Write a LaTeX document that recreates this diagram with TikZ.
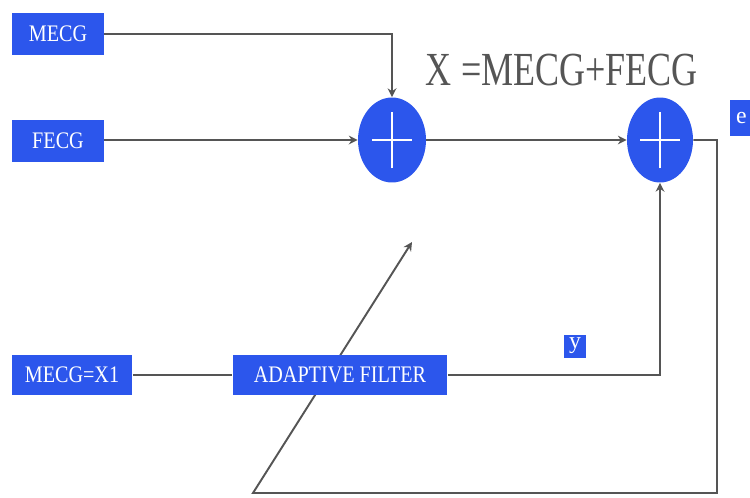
\documentclass[tikz,border=0pt]{standalone}
\usepackage{fontspec}
\setmainfont{Liberation Serif}
\usetikzlibrary{shapes.geometric,arrows.meta}
\pgfdeclarelayer{background}
\pgfsetlayers{background,main}
\definecolor{bblue}{RGB}{44,86,236}
\definecolor{lgray}{RGB}{85,85,85}
\tikzset{
  bluebox/.style={fill=bblue, draw=none, text=white, inner sep=0pt, font=\fontsize{13.5}{14}\selectfont},
  adder/.style={ellipse, fill=bblue, draw=none, inner sep=0pt,
    path picture={\draw[white,line width=1.2pt] ([xshift=-0.4cm]path picture bounding box.center) -- ([xshift=0.4cm]path picture bounding box.center);
                  \draw[white,line width=1.2pt] ([yshift=-0.57cm]path picture bounding box.center) -- ([yshift=0.57cm]path picture bounding box.center);}},
  wire/.style={draw=lgray, line width=1.1pt},
  arr/.style={wire, -{Stealth[length=5pt,width=5pt]}}
}
\begin{document}
\begin{tikzpicture}[x=0.02cm,y=-0.02cm]
\useasboundingbox (0,0) rectangle (750,497);
\node[bluebox, minimum width=1.84cm, minimum height=0.84cm] (mecg) at (58,34) {\scalebox{0.85}[1]{MECG}};
\node[bluebox, minimum width=1.84cm, minimum height=0.84cm] (fecg) at (58,141) {\scalebox{0.85}[1]{FECG}};
\node[adder, minimum width=1.36cm, minimum height=1.7cm] (add1) at (392,140) {};
\node[adder, minimum width=1.32cm, minimum height=1.7cm] (add2) at (660,140) {};
\node[bluebox, minimum width=2.42cm, minimum height=0.8cm] (x1) at (72,375) {\scalebox{0.85}[1]{MECG=X1}};
\node[bluebox, minimum width=4.3cm, minimum height=0.8cm] (af) at (340,375) {\scalebox{0.85}[1]{ADAPTIVE FILTER}};
\node[bluebox, minimum width=0.44cm, minimum height=0.46cm] (ybox) at (575,346) {y};
\node[bluebox, minimum width=0.44cm, minimum height=0.72cm, anchor=west] (ebox) at (730,118) {e};
\node[text=lgray, font=\fontsize{27}{30}\selectfont] (lbl) at (562,70) {\scalebox{0.76}[1]{X =MECG+FECG}};
\coordinate (c1) at (717,140);
\coordinate (c2) at (717,493);
\coordinate (c3) at (253,493);
\coordinate (c4) at (412,242);
\begin{pgfonlayer}{background}
\draw[arr] (mecg.east) -| (add1.north);
\draw[arr] (fecg.east |- add1.west) -- (add1.west);
\draw[arr] (add1.east) -- (add2.west);
\draw[wire] (x1.east) -- (af.west);
\draw[arr] (af.east) -| (add2.south);
\draw[arr] (add2.east) -- (c1) -- (c2) -- (c3) -- (c4);
\end{pgfonlayer}
\end{tikzpicture}
\end{document}
